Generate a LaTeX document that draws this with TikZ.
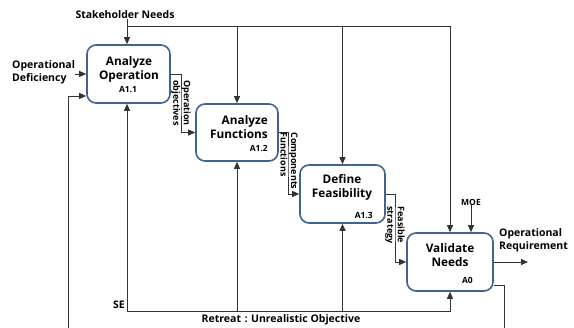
\documentclass[tikz,border=0pt]{standalone}
\usepackage{fontspec}
\setmainfont{Open Sans}
\usetikzlibrary{arrows.meta}

\definecolor{boxblue}{HTML}{41648F}
\definecolor{wiregray}{HTML}{333333}

\tikzset{
  proc/.style={draw=boxblue,line width=1.6pt,rounded corners=9pt,fill=white,inner sep=0pt},
  wire/.style={draw=wiregray,line width=0.8pt},
  flow/.style={wire,-{Triangle[length=7pt,width=6pt]}},
  title/.style={font=\fontsize{11.8}{14}\selectfont\bfseries,align=center,inner sep=0pt},
  ident/.style={font=\fontsize{8.5}{9}\selectfont\bfseries,inner sep=0pt},
  lbl/.style={font=\fontsize{10.5}{13.5}\selectfont\bfseries,align=left,inner sep=0pt},
  tag/.style={font=\fontsize{9}{10.5}\selectfont\bfseries,align=left,inner sep=0pt,rotate=-90},
}

\begin{document}
\begin{tikzpicture}[x=1pt,y=-1pt]
\useasboundingbox (0,0) rectangle (574,328);

\begin{scope}
\node[proc,minimum width=83pt,minimum height=58pt] (ao) at (128.5,74) {};
\node[proc,minimum width=82pt,minimum height=57pt] (af) at (237,132.5) {};
\node[proc,minimum width=85pt,minimum height=58pt] (df) at (342.5,194) {};
\node[proc,minimum width=86pt,minimum height=58pt] (vn) at (450,262) {};

\node[title] (aot) at (129,69) {Analyze\\Operation};
\node[ident] (aoi) at (128,90) {A1.1};
\node[title,align=right,anchor=east] (aft) at (268,127) {Analyze\\Functions};
\node[ident,anchor=east] (afi) at (268,148) {A1.2};
\node[title] (dft) at (342,187.5) {Define\\Feasibility};
\node[ident,anchor=east] (dfi) at (373,215) {A1.3};
\node[title] (vnt) at (450,255.5) {Validate\\Needs};
\node[ident,anchor=east] (vni) at (473,280) {A0};
\end{scope}

\node[lbl] (sn) at (125,15) {Stakeholder Needs};
\node[lbl,anchor=west] (od) at (12,72.5) {Operational\\Deficiency};
\node[ident] (moe) at (471,202) {MOE};
\node[lbl,anchor=west] (orq) at (499,240.5) {Operational\\Requirement};
\node[lbl,anchor=east] (se) at (125,305) {SE};
\node[lbl] (ret) at (281,320) {Retreat\,\,:\,\,Unrealistic Objective};

\coordinate (tl) at (127,26);
\coordinate (tr) at (450,26);
\coordinate (bl) at (127,311);
\coordinate (k1) at (181,100);
\coordinate (k2) at (288,160);
\coordinate (k3) at (395,220);
\coordinate (fr) at (504,330);
\coordinate (fl) at (68,330);

\draw[wire] (tl) -- (tr);
\draw[flow] (tl |- sn.south) -- (tl |- ao.north);
\draw[flow] (af.north |- tl) -- (af.north);
\draw[flow] (df.north |- tl) -- (df.north);
\draw[flow] (tr) -- (vn.north);
\draw[flow] (moe.south) -- (moe.south |- vn.north);

\draw[flow] (od.east |- ao.west) -- (ao.west);
\draw[wire] ([yshift=-23pt]vn.east) -| (fr);
\draw[flow] (fl) |- ([yshift=-22pt]ao.west);

\draw[flow] (bl) -- (bl |- ao.south);
\draw[flow] (bl) -| (vn.south);
\draw[flow] (af.south |- bl) -- (af.south);
\draw[flow] (df.south |- bl) -- (df.south);

\draw[flow] (ao.east) -| (k1) |- (af.west);
\draw[flow] (af.east) -| (k2) |- (df.west);
\draw[flow] (df.east) -| (k3) |- (vn.west);
\draw[flow] (vn.east) -- (528,262);

\node[tag] (t1) at (181,103) {Operation\\objectives};
\node[tag] (t2) at (289,161) {Components\\Functions};
\node[tag] (t3) at (395,225) {Feasible\\strategy};
\end{tikzpicture}
\end{document}
